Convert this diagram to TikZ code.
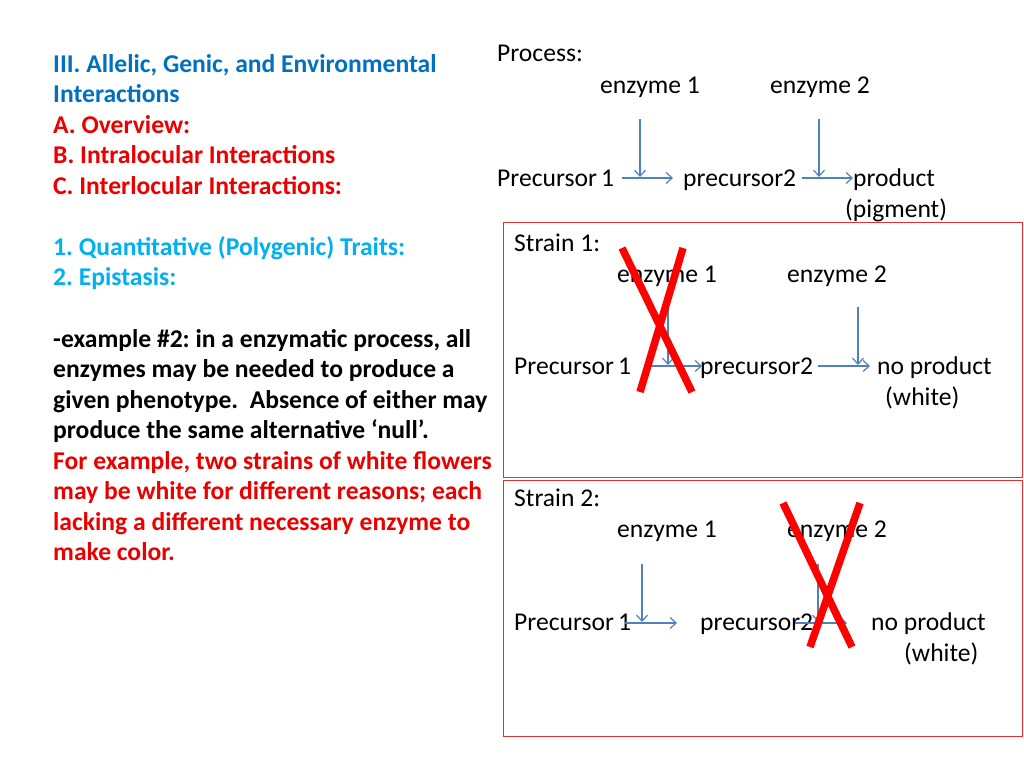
\documentclass[tikz,border=0pt]{standalone}
\usepackage{fontspec}
\setmainfont{Carlito}
\usetikzlibrary{arrows.meta}
\definecolor{dblue}{RGB}{0,112,192}
\definecolor{lblue}{RGB}{0,176,240}
\definecolor{tred}{RGB}{235,0,0}
\definecolor{arrowblue}{RGB}{79,129,189}
\definecolor{boxred}{RGB}{225,50,50}
\definecolor{xred}{RGB}{255,0,0}
\frenchspacing
\begin{document}
\begin{tikzpicture}[x=1pt,y=-1pt,
  lt/.style={anchor=base west, inner sep=0pt, font=\bfseries\fontsize{25.6}{30}\selectfont},
  rt/.style={anchor=base west, inner sep=0pt, font=\fontsize{25.6}{30}\selectfont},
  flow/.style={draw=arrowblue, line width=1.2pt, -{Straight Barb[length=6pt,width=11pt]}},
  strainbox/.style={draw=boxred, line width=1pt},
  cross/.style={draw=xred, line width=7.5pt}]
\useasboundingbox[fill=white] (0,0) rectangle (1024,768);

% left text
\node[lt, text=dblue] (l1) at (53,72) {III. Allelic, Genic, and Environmental};
\node[lt, text=dblue] (l2) at (53,102.5) {Interactions};
\node[lt, text=tred] (l3) at (53,133) {A. Overview:};
\node[lt, text=tred] (l4) at (53,163.5) {B. Intralocular Interactions};
\node[lt, text=tred] (l5) at (53,194) {C. Interlocular Interactions:};
\node[lt, text=lblue] (l6) at (53,255) {1. Quantitative (Polygenic) Traits:};
\node[lt, text=lblue] (l7) at (53,285.5) {2. Epistasis:};
\node[lt] (l8) at (53,347) {-example \#2: in a enzymatic process, all};
\node[lt] (l9) at (53,377.5) {enzymes may be needed to produce a};
\node[lt] (l10) at (53,408) {given phenotype.\ \ Absence of either may};
\node[lt] (l11) at (53,438.5) {produce the same alternative ‘null’.};
\node[lt, text=tred] (l12) at (53,469) {For example, two strains of white flowers};
\node[lt, text=tred] (l13) at (53,499.5) {may be white for different reasons; each};
\node[lt, text=tred] (l14) at (53,530) {lacking a different necessary enzyme to};
\node[lt, text=tred] (l15) at (53,560.5) {make color.};

% Process
\node[rt] (proc) at (497,62) {Process:};
\node[rt] (pe1) at (600,93) {enzyme 1};
\node[rt] (pe2) at (770,93) {enzyme 2};
\node[rt] (pp1) at (497,186) {Precursor\,1};
\node[rt] (pp2) at (683,186) {precursor2};
\node[rt] (ppr) at (853,186) {product};
\node[rt] (ppg) at (845,217) {(pigment)};
\coordinate (pv1s) at (640,119); \coordinate (pv1e) at (640,177);
\coordinate (pv2s) at (819,119); \coordinate (pv2e) at (819,177);
\coordinate (ph1s) at (622,178); \coordinate (ph1e) at (673,178);
\coordinate (ph2s) at (802,178); \coordinate (ph2e) at (853,178);
\draw[flow] (pv1s) -- (pv1e);
\draw[flow] (pv2s) -- (pv2e);
\draw[flow] (ph1s) -- (ph1e);
\draw[flow] (ph2s) -- (ph2e);

% Strain 1
\draw[strainbox] (503,222) rectangle (1022,477);
\node[rt] (s1) at (514,251) {Strain 1:};
\node[rt] (s1e1) at (617,282) {enzyme 1};
\node[rt] (s1e2) at (787,282) {enzyme 2};
\node[rt] (s1p1) at (514,374) {Precursor\,1};
\node[rt] (s1p2) at (700,374) {precursor2};
\node[rt] (s1np) at (877,374) {no product};
\node[rt] (s1w) at (885,405) {(white)};
\coordinate (s1v1s) at (668,307); \coordinate (s1v1e) at (668,365);
\coordinate (s1v2s) at (858,307); \coordinate (s1v2e) at (858,365);
\coordinate (s1h1s) at (650,366); \coordinate (s1h1e) at (702,366);
\coordinate (s1h2s) at (818,366); \coordinate (s1h2e) at (870,366);
\draw[flow] (s1v1s) -- (s1v1e);
\draw[flow] (s1v2s) -- (s1v2e);
\draw[flow] (s1h1s) -- (s1h1e);
\draw[flow] (s1h2s) -- (s1h2e);
\coordinate (x1a) at (622,248); \coordinate (x1b) at (692,392);
\coordinate (x1c) at (683,248); \coordinate (x1d) at (640,392);
\draw[cross] (x1a) -- (x1b);
\draw[cross] (x1c) -- (x1d);

% Strain 2
\draw[strainbox] (503,480) rectangle (1022,736);
\node[rt] (s2) at (514,506) {Strain 2:};
\node[rt] (s2e1) at (617,537) {enzyme 1};
\node[rt] (s2e2) at (787,537) {enzyme 2};
\node[rt] (s2p1) at (514,630) {Precursor\,1};
\node[rt] (s2p2) at (700,630) {precursor2};
\node[rt] (s2np) at (871,630) {no product};
\node[rt] (s2w) at (904,661) {(white)};
\coordinate (s2v1s) at (642,564); \coordinate (s2v1e) at (642,622);
\coordinate (s2v2s) at (818,564); \coordinate (s2v2e) at (818,622);
\coordinate (s2h1s) at (625,623); \coordinate (s2h1e) at (677,623);
\coordinate (s2h2s) at (795,623); \coordinate (s2h2e) at (847,623);
\draw[flow] (s2v1s) -- (s2v1e);
\draw[flow] (s2v2s) -- (s2v2e);
\draw[flow] (s2h1s) -- (s2h1e);
\draw[flow] (s2h2s) -- (s2h2e);
\coordinate (x2a) at (783,503); \coordinate (x2b) at (852,647);
\coordinate (x2c) at (860,503); \coordinate (x2d) at (810,647);
\draw[cross] (x2a) -- (x2b);
\draw[cross] (x2c) -- (x2d);
\end{tikzpicture}
\end{document}
